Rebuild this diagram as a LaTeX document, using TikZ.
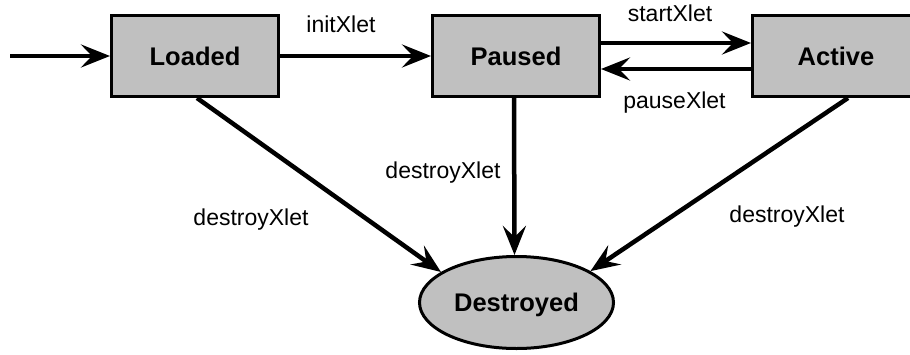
\documentclass[tikz,border=0pt]{standalone}
\usepackage{fontspec}
\setmainfont{Liberation Sans}
\usetikzlibrary{arrows.meta,shapes.geometric,calc}
\definecolor{stategray}{HTML}{C0C0C0}
\begin{document}
\begin{tikzpicture}[x=1pt,y=-1pt,
  statebox/.style={draw=black,fill=stategray,line width=3pt,inner sep=0pt,
    minimum width=167pt,minimum height=81pt,
    font=\fontsize{25.5}{28}\selectfont\bfseries,text depth=0pt},
  endstate/.style={ellipse,draw=black,fill=stategray,line width=3pt,inner sep=0pt,
    minimum width=194pt,minimum height=92pt,
    font=\fontsize{25.5}{28}\selectfont\bfseries,text depth=0pt},
  trans/.style={line width=4.5pt,
    -{Stealth[length=29pt,width=23pt,inset=11pt]}},
  lbl/.style={anchor=base,inner sep=0pt,font=\fontsize{23}{26}\selectfont}]
  \clip (0,0) rectangle (910,354);
  \fill[white] (0,0) rectangle (910,354);

  % states
  \node[statebox] (loaded) at (195,56) {Loaded};
  \node[statebox] (paused) at (516,56) {Paused};
  \node[statebox] (active) at (836,56) {Active};
  \node[endstate] (destroyed) at (516.5,302.5) {Destroyed};
  \coordinate (init) at (10,56);

  % transitions
  \draw[trans] (init) -- (loaded.west);
  \draw[trans] (loaded.east) -- (paused.west);
  \draw[trans] ([yshift=13pt]paused.east) -- ([yshift=13pt]active.west);
  \draw[trans] ([yshift=-13pt]active.west) -- ([yshift=-13pt]paused.east);
  \draw[trans] ([xshift=2pt]loaded.south) -- (destroyed.158);
  \draw[trans] ([xshift=-2pt]paused.south) -- ([xshift=-2pt]destroyed.north);
  \draw[trans] ([xshift=12pt]active.south) -- (destroyed.23);

  % transition labels
  \node[lbl] (linit) at (341,32) {initXlet};
  \node[lbl] (lstart) at (670,21) {startXlet};
  \node[lbl] (lpause) at (674.5,108) {pauseXlet};
  \node[lbl] (ldl) at (251,225) {destroyXlet};
  \node[lbl] (ldp) at (443,178) {destroyXlet};
  \node[lbl] (lda) at (787,222) {destroyXlet};
\end{tikzpicture}
\end{document}
